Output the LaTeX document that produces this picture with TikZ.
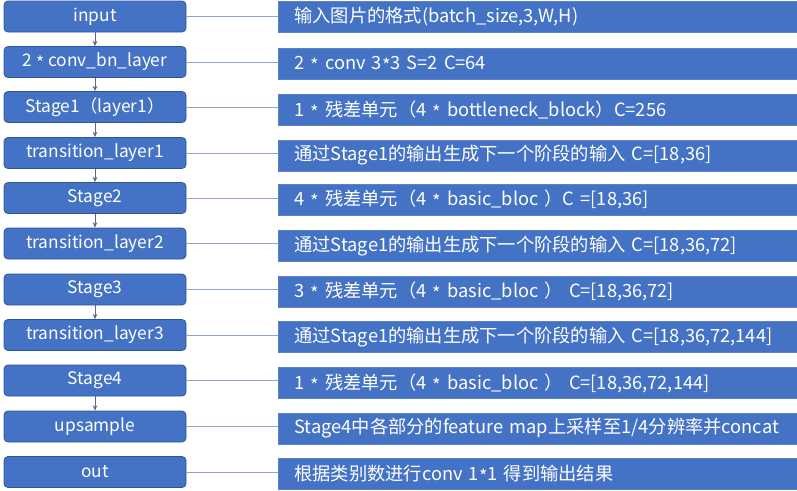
\documentclass[tikz,border=0pt]{standalone}
\usepackage{fontspec}
\setmainfont{Noto Sans CJK SC}
\usetikzlibrary{arrows.meta}
\definecolor{boxblue}{RGB}{68,114,196}
\definecolor{boxedge}{RGB}{47,85,151}
\definecolor{redge}{RGB}{90,130,205}
\definecolor{linkc}{RGB}{143,166,200}
\definecolor{arrowc}{RGB}{90,105,135}
\newcommand{\myst}{\raisebox{-0.3ex}{*}}
\tikzset{
  lbox/.style={draw=boxedge, line width=0.6pt, fill=boxblue, rounded corners=3pt,
    minimum width=182*0.75pt, minimum height=31*0.75pt, inner sep=0pt,
    text=white, font=\fontsize{13}{15}\selectfont, anchor=center},
  rbox/.style={draw=redge, line width=0.5pt, fill=boxblue,
    minimum width=519*0.75pt, minimum height=31*0.75pt, inner sep=0pt,
    text=white, font=\fontsize{13.7}{15}\selectfont, anchor=west, align=left,
    text width=503*0.75pt},
  link/.style={draw=linkc, line width=0.6pt},
  flow/.style={draw=arrowc, line width=0.6pt, -{Stealth[length=4pt,width=3.5pt]}}
}
\begin{document}
\begin{tikzpicture}[x=0.75pt,y=-0.75pt]
\useasboundingbox (0,0) rectangle (797,490);
% left column
\node[lbox] (l1) at (95,16.5) {input};
\node[lbox] (l2) at (95,62) {2 \myst{} conv\_bn\_layer};
\node[lbox] (l3) at (95,107) {Stage1（layer1）};
\node[lbox] (l4) at (95,153) {transition\_layer1};
\node[lbox] (l5) at (95,198) {Stage2};
\node[lbox] (l6) at (95,243.5) {transition\_layer2};
\node[lbox] (l7) at (95,289.5) {Stage3};
\node[lbox] (l8) at (95,335) {transition\_layer3};
\node[lbox] (l9) at (95,380.5) {Stage4};
\node[lbox] (l10) at (95,426.5) {upsample};
\node[lbox] (l11) at (95,472) {out};
% right column
\node[rbox] (r1) at (278,16.5) {\hspace*{6pt}输入图片的格式(batch\_size,3,W,H)};
\node[rbox] (r2) at (278,64) {\hspace*{6pt}2 \myst{} conv 3\myst{}3 S=2 C=64};
\node[rbox] (r3) at (278,110) {\hspace*{6pt}1 \myst{} 残差单元（4 \myst{} bottleneck\_block）C=256};
\node[rbox] (r4) at (278,155.5) {\hspace*{6pt}通过Stage1的输出生成下一个阶段的输入 C=[18,36]};
\node[rbox] (r5) at (278,199.5) {\hspace*{6pt}4 \myst{} 残差单元（4 \myst{} basic\_bloc ）C =[18,36]};
\node[rbox] (r6) at (278,246) {\hspace*{6pt}通过Stage1的输出生成下一个阶段的输入 C=[18,36,72]};
\node[rbox] (r7) at (278,291.5) {\hspace*{6pt}3 \myst{} 残差单元（4 \myst{} basic\_bloc ） C=[18,36,72]};
\node[rbox] (r8) at (278,337) {\hspace*{6pt}通过Stage1的输出生成下一个阶段的输入 C=[18,36,72,144]};
\node[rbox] (r9) at (278,383) {\hspace*{6pt}1 \myst{} 残差单元（4 \myst{} basic\_bloc ） C=[18,36,72,144]};
\node[rbox] (r10) at (278,428.5) {\hspace*{6pt}Stage4中各部分的feature map上采样至1/4分辨率并concat};
\node[rbox] (r11) at (278,474) {\hspace*{6pt}根据类别数进行conv 1\myst{}1 得到输出结果};
% links
\foreach \i in {1,...,11}{
  \draw[link] (l\i.east) -- (r\i.west |- l\i.east);
}
% flow arrows
\draw[flow] (l1.south) -- (l2.north);
\draw[flow] (l2.south) -- (l3.north);
\draw[flow] (l3.south) -- (l4.north);
\draw[flow] (l4.south) -- (l5.north);
\draw[flow] (l5.south) -- (l6.north);
\draw[flow] (l7.south) -- (l8.north);
\draw[flow] (l9.south) -- (l10.north);
\end{tikzpicture}
\end{document}
